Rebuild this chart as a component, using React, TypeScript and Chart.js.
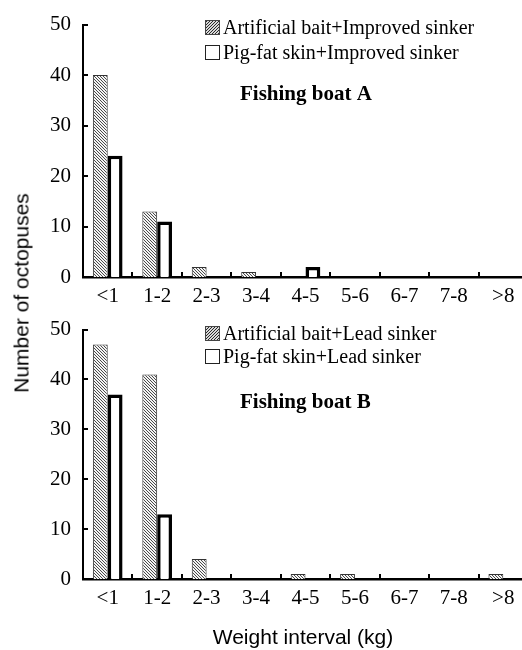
import React, { useEffect, useRef } from "react";
import { Chart, registerables } from "chart.js";

Chart.register(...registerables);

const categories = ["<1", "1-2", "2-3", "3-4", "4-5", "5-6", "6-7", "7-8", ">8"];
const boatAArtificial = [40, 13, 2, 1, 0, 0, 0, 0, 0];
const boatAPigFat = [24, 11, 0, 0, 2, 0, 0, 0, 0];
const boatBArtificial = [47, 41, 4, 0, 1, 1, 0, 0, 1];
const boatBPigFat = [37, 13, 0, 0, 0, 0, 0, 0, 0];
const yTickValues = [0, 10, 20, 30, 40, 50];
const legendA = ["Artificial bait+Improved sinker", "Pig-fat skin+Improved sinker"];
const legendB = ["Artificial bait+Lead sinker", "Pig-fat skin+Lead sinker"];
const titleA = "Fishing boat A";
const titleB = "Fishing boat B";
const yTitle = "Number of octopuses";
const xTitle = "Weight interval (kg)";

const SERIF = "'Liberation Serif', 'Times New Roman', serif";
const SANS = "'Liberation Sans', Arial, sans-serif";

function makeHatch(ctx: CanvasRenderingContext2D, dir: string, color: string, bg: string, s: number) {
  const c = document.createElement("canvas");
  c.width = s;
  c.height = s;
  const t = c.getContext("2d")!;
  t.fillStyle = bg;
  t.fillRect(0, 0, s, s);
  t.strokeStyle = color;
  t.lineWidth = 1;
  for (const k of [-s, 0, s]) {
    t.beginPath();
    if (dir === "\\") {
      t.moveTo(k, 0);
      t.lineTo(k + s, s);
    } else {
      t.moveTo(k, s);
      t.lineTo(k + s, 0);
    }
    t.stroke();
  }
  return ctx.createPattern(c, "repeat")!;
}

type PanelProps = {
  top: number;
  height: number;
  areaTop: number;
  areaBottom: number;
  artificial: number[];
  pigFat: number[];
  legend: string[];
  title: string;
  legendY: number[];
  titleY: number;
};

const CANVAS_W = 530;

function Panel(p: PanelProps) {
  const ref = useRef<HTMLCanvasElement>(null);
  useEffect(() => {
    const canvas = ref.current!;
    const ctx = canvas.getContext("2d")!;
    const barHatch = makeHatch(ctx, "\\", "#4a4a4a", "#f4f4f4", 3);
    const legendHatch = makeHatch(ctx, "/", "#2a2a2a", "#d8d8d8", 3);

    const decor = {
      id: "decor",
      afterDraw(chart: any) {
        const c = chart.ctx as CanvasRenderingContext2D;
        const area = chart.chartArea;
        const sx = chart.scales.x;
        const sy = chart.scales.y;
        c.save();
        c.strokeStyle = "#000";
        c.lineWidth = 2;
        for (const v of yTickValues) {
          const y = Math.round(sy.getPixelForValue(v));
          c.beginPath();
          c.moveTo(area.left, y);
          c.lineTo(area.left + 5, y);
          c.stroke();
        }
        for (let i = 1; i < categories.length; i++) {
          const x = Math.round((sx.getPixelForValue(i - 1) + sx.getPixelForValue(i)) / 2);
          c.beginPath();
          c.moveTo(x, area.bottom);
          c.lineTo(x, area.bottom - 5);
          c.stroke();
        }
        // legend
        const lx = 205;
        const sw = 14;
        c.font = `20px ${SERIF}`;
        c.fillStyle = "#000";
        c.textBaseline = "alphabetic";
        c.textAlign = "left";
        p.legend.forEach((txt, i) => {
          const by = p.legendY[i];
          c.lineWidth = 1;
          if (i === 0) {
            c.fillStyle = legendHatch;
            c.fillRect(lx, by - sw + 0.5, sw, sw);
            c.strokeStyle = "#444";
          } else {
            c.fillStyle = "#fff";
            c.fillRect(lx, by - sw + 0.5, sw, sw);
            c.strokeStyle = "#222";
          }
          c.strokeRect(lx + 0.5, by - sw + 0.5, sw, sw);
          c.fillStyle = "#000";
          c.fillText(txt, lx + sw + 4, by);
        });
        c.font = `bold 21px ${SERIF}`;
        c.fillText(p.title, 240, p.titleY);
        c.restore();
      },
    };

    const chart = new Chart(canvas, {
      type: "bar",
      data: {
        labels: categories,
        datasets: [
          {
            data: p.artificial,
            backgroundColor: barHatch,
            borderColor: "#333",
            borderWidth: 1,
            categoryPercentage: 0.6,
            barPercentage: 1,
          },
          {
            data: p.pigFat,
            backgroundColor: "#fff",
            borderColor: "#000",
            borderWidth: 3.5,
            categoryPercentage: 0.6,
            barPercentage: 1,
          },
        ],
      },
      options: {
        animation: false,
        responsive: false,
        events: [],
        layout: { padding: { top: p.areaTop, right: 2, bottom: 0, left: 0 } },
        plugins: { legend: { display: false }, tooltip: { enabled: false } },
        scales: {
          x: {
            grid: { display: false, drawTicks: false },
            border: { display: true, color: "#000", width: 2.5 },
            ticks: { color: "#000", font: { family: SERIF, size: 21 }, padding: 7, maxRotation: 0 },
            afterFit: (s: any) => {
              s.height = p.height - p.areaBottom;
            },
          },
          y: {
            min: 0,
            max: 50,
            grid: { display: false, drawTicks: false },
            border: { display: true, color: "#000", width: 2 },
            ticks: { stepSize: 10, color: "#000", font: { family: SERIF, size: 21 }, padding: 12 },
            afterFit: (s: any) => {
              s.width = 83;
            },
          },
        },
      },
      plugins: [decor],
    });
    return () => chart.destroy();
  }, []);
  return (
    <canvas
      ref={ref}
      width={CANVAS_W}
      height={p.height}
      style={{ position: "absolute", left: 0, top: p.top, width: CANVAS_W, height: p.height }}
    />
  );
}

export default function App() {
  return (
    <div
      style={{
        position: "absolute",
        left: 0,
        top: 0,
        width: 522,
        height: 650,
        overflow: "hidden",
        background: "#fff",
      }}
    >
      <Panel
        top={0}
        height={305}
        areaTop={23}
        areaBottom={277}
        artificial={boatAArtificial}
        pigFat={boatAPigFat}
        legend={legendA}
        title={titleA}
        legendY={[34, 59]}
        titleY={100}
      />
      <Panel
        top={305}
        height={345}
        areaTop={18}
        areaBottom={274}
        artificial={boatBArtificial}
        pigFat={boatBPigFat}
        legend={legendB}
        title={titleB}
        legendY={[35, 58]}
        titleY={103}
      />
      <div
        style={{
          position: "absolute",
          left: 21,
          top: 293,
          transform: "translate(-50%, -50%) rotate(-90deg)",
          whiteSpace: "nowrap",
          font: `21px ${SANS}`,
          lineHeight: "21px",
          color: "#000",
        }}
      >
        {yTitle}
      </div>
      <div
        style={{
          position: "absolute",
          left: 303,
          top: 626,
          transform: "translateX(-50%)",
          whiteSpace: "nowrap",
          font: `21px ${SANS}`,
          lineHeight: "21px",
          color: "#000",
        }}
      >
        {xTitle}
      </div>
    </div>
  );
}
